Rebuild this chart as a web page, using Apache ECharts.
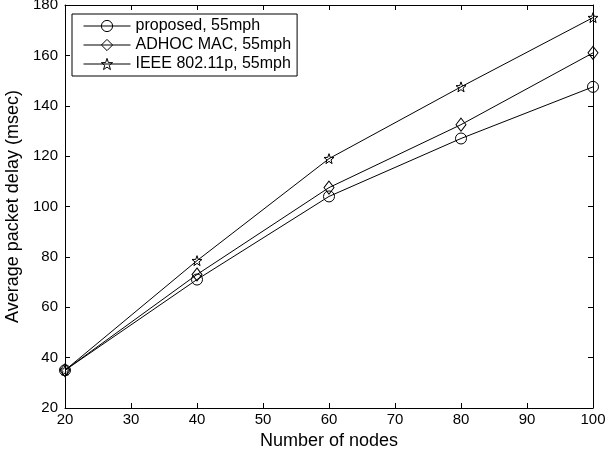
<!DOCTYPE html>
<html>
<head>
<meta charset="utf-8">
<script src="https://cdn.jsdelivr.net/npm/echarts@6/dist/echarts.min.js"></script>
<style>
  html, body { margin: 0; padding: 0; background: #fff; }
  #chart { width: 608px; height: 452px; }
</style>
</head>
<body>
<div id="chart"></div>
<script>
const nodes = [20, 40, 60, 80, 100];
const proposed = [35, 71, 104, 127, 147.5];
const adhocMac = [35, 73, 107.5, 132.5, 161];
const ieee80211p = [35, 78.5, 119, 147.5, 175];

const font = 'Liberation Sans, Arial, sans-serif';
const starPath = 'path://M0,-10L2.35,-3.24L9.51,-3.09L3.8,1.24L5.88,8.09L0,4L-5.88,8.09L-3.8,1.24L-9.51,-3.09L-2.35,-3.24Z';

const pairs = (ys) => nodes.map((x, i) => [x, ys[i]]);

const mkSeries = (name, ys, symbol, size) => ({
  name,
  type: 'line',
  data: pairs(ys),
  symbol,
  symbolSize: size,
  showAllSymbol: true,
  lineStyle: { color: '#000', width: 1 },
  itemStyle: { color: 'transparent', borderColor: '#000', borderWidth: 1 },
  emphasis: { disabled: true },
  animation: false,
});

const chart = echarts.init(document.getElementById('chart'));

const tickIn = { show: true, inside: true, length: 5, lineStyle: { color: '#000' } };
const axisLineBlack = { show: true, lineStyle: { color: '#000', width: 1 } };

chart.setOption({
  animation: false,
  backgroundColor: '#fff',
  textStyle: { fontFamily: font },
  grid: { left: 65, right: 15, top: 5, bottom: 44, containLabel: false, outerBoundsMode: 'none' },
  legend: {
    orient: 'vertical',
    left: 72,
    top: 14,
    backgroundColor: '#fff',
    borderColor: '#000',
    borderWidth: 1,
    borderRadius: 0,
    padding: [4, 6, 4, 11],
    itemWidth: 47,
    itemHeight: 14,
    itemGap: 3,
    lineStyle: { width: 1, color: '#000' },
    itemStyle: { color: 'transparent', borderColor: '#000', borderWidth: 1 },
    textStyle: { fontFamily: font, fontSize: 16, color: '#000' },
    data: ['proposed, 55mph', 'ADHOC MAC, 55mph', 'IEEE 802.11p, 55mph'],
  },
  xAxis: [
    {
      type: 'value', min: 20, max: 100, interval: 10,
      name: 'Number of nodes', nameLocation: 'middle', nameGap: 23,
      nameTextStyle: { fontFamily: font, fontSize: 18, color: '#000' },
      axisLine: axisLineBlack, axisTick: tickIn,
      axisLabel: { fontFamily: font, fontSize: 15, color: '#000', margin: 4 },
      splitLine: { show: false },
    },
    {
      type: 'value', min: 20, max: 100, interval: 10, position: 'top',
      axisLine: axisLineBlack, axisTick: tickIn,
      axisLabel: { show: false }, splitLine: { show: false },
    },
  ],
  yAxis: [
    {
      type: 'value', min: 20, max: 180, interval: 20,
      name: 'Average packet delay (msec)', nameLocation: 'middle', nameGap: 40,
      nameTextStyle: { fontFamily: font, fontSize: 18, color: '#000' },
      axisLine: axisLineBlack, axisTick: tickIn,
      axisLabel: { fontFamily: font, fontSize: 15, color: '#000', margin: 7 },
      splitLine: { show: false },
    },
    {
      type: 'value', min: 20, max: 180, interval: 20, position: 'right',
      axisLine: axisLineBlack, axisTick: tickIn,
      axisLabel: { show: false }, splitLine: { show: false },
    },
  ],
  series: [
    mkSeries('proposed, 55mph', proposed, 'circle', 11),
    mkSeries('ADHOC MAC, 55mph', adhocMac, 'diamond', [10, 13]),
    mkSeries('IEEE 802.11p, 55mph', ieee80211p, starPath, 10),
  ],
});
</script>
</body>
</html>
